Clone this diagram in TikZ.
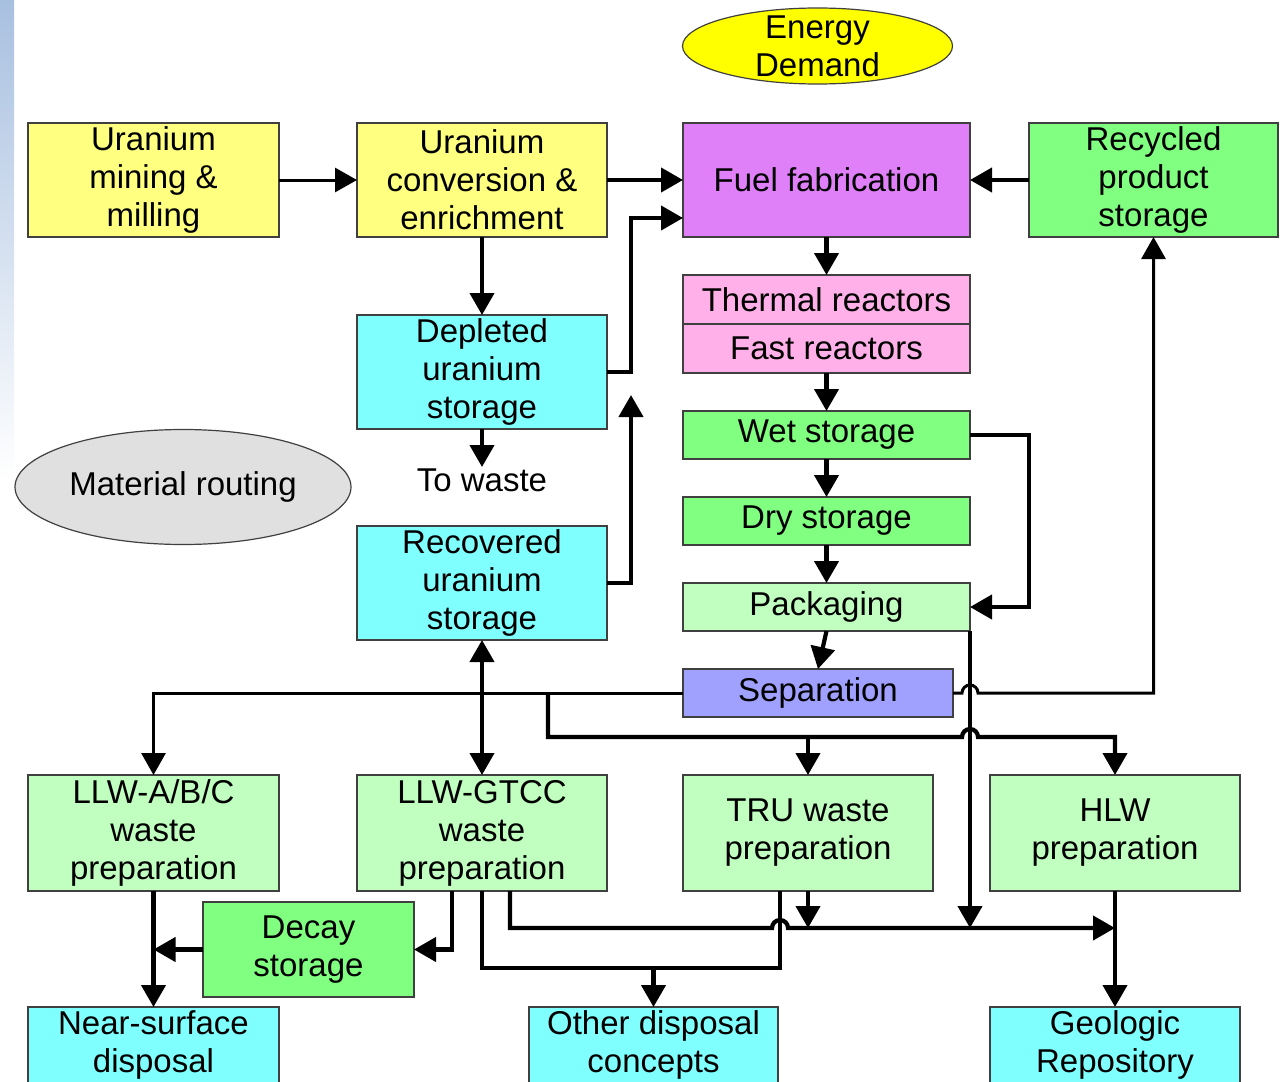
\documentclass[tikz,border=0pt]{standalone}
\usepackage{fontspec}
\setmainfont{Liberation Sans}
\usetikzlibrary{positioning,arrows.meta,calc,shapes.geometric}

\definecolor{oreyellow}{HTML}{FFFF80}
\definecolor{demandyellow}{HTML}{FFFF00}
\definecolor{fabviolet}{HTML}{E080F8}
\definecolor{storegreen}{HTML}{80FF80}
\definecolor{prepgreen}{HTML}{C0FFC0}
\definecolor{dispocyan}{HTML}{80FFFF}
\definecolor{reactpink}{HTML}{FFB0E8}
\definecolor{sepblue}{HTML}{A0A0FF}
\definecolor{routegray}{HTML}{E0E0E0}
\definecolor{stripblue}{HTML}{A8C0E0}

\begin{document}
\begin{tikzpicture}[
    x=1pt, y=1pt,
    font=\fontsize{33}{38}\selectfont,
    block/.style={
        draw=black!75,
        line width=1.3pt,
        minimum width=250pt,
        minimum height=114pt,
        inner sep=0pt,
        outer sep=0pt,
        align=center
    },
    ore/.style={block, fill=oreyellow},
    fab/.style={block, fill=fabviolet, minimum width=287pt},
    store/.style={block, fill=storegreen},
    prep/.style={block, fill=prepgreen, minimum height=116pt},
    dispo/.style={block, fill=dispocyan, minimum height=76pt},
    reactor/.style={block, fill=reactpink, minimum width=287pt, minimum height=49pt},
    stage/.style={block, minimum width=287pt, minimum height=48pt},
    oval/.style={ellipse, draw=black!75, line width=1.2pt, inner sep=0pt, outer sep=0pt, align=center},
    line/.style={line width=4.2pt},
    arrow/.style={line, -{Triangle[length=22pt,width=24pt]}},
    thinarrow/.style={arrow, line width=3pt}
]

\useasboundingbox (0,0) rectangle (1281,-1081);
\shade[top color=stripblue, bottom color=white] (0,0) rectangle (14,-480);

% ============================================================
% FRONT END
% ============================================================
\node[ore, minimum width=251pt] (mine) at (153.5,-180) {Uranium\\mining \&\\milling};
\node[ore, right=78pt of mine] (conv) {Uranium\\conversion \&\\enrichment};
\node[fab, right=76pt of conv] (fuel) {Fuel fabrication};
\node[store, minimum width=249pt, right=59pt of fuel] (recyc) {Recycled\\product\\storage};
\node[oval, fill=demandyellow, minimum width=270pt, minimum height=76pt, inner ysep=-8pt,
      above=39pt of fuel, xshift=-9pt] (demand) {Energy\\Demand};

\draw[thinarrow] (mine) -- (conv);
\draw[arrow] (conv) -- (fuel);
\draw[arrow] (recyc) -- (fuel);

% ============================================================
% URANIUM STORAGE
% ============================================================
\node[block, fill=dispocyan, below=78pt of conv] (depl) {Depleted\\uranium\\storage};
\node[below=38pt of depl, inner sep=2pt] (towaste) {To waste};
\node[block, fill=dispocyan, below=97pt of depl] (recov) {Recovered\\uranium\\storage};
\node[oval, fill=routegray, minimum width=336pt, minimum height=115pt] (routing) at (183,-487) {Material routing};

\draw[arrow] (conv) -- (depl);
\draw[arrow] (depl) -- (towaste);
\draw[arrow] (depl.east) -- ++(24,0) |- ([yshift=-38pt]fuel.west);
\draw[arrow] (recov.east) -- ++(24,0) -- ++(0,188);

% ============================================================
% REACTORS AND SPENT FUEL
% ============================================================
\node[reactor, below=38pt of fuel] (therm) {Thermal reactors};
\node[reactor, below=0pt of therm] (fast) {Fast reactors};
\node[stage, fill=storegreen, below=38pt of fast] (wet) {Wet storage};
\node[stage, fill=storegreen, below=38pt of wet] (dry) {Dry storage};
\node[stage, fill=prepgreen, below=38pt of dry] (pack) {Packaging};
\node[stage, fill=sepblue, minimum width=270pt, below=38pt of pack, xshift=-8.5pt] (sep) {Separation};

\draw[arrow] (fuel) -- (therm);
\draw[arrow] (fast) -- (wet);
\draw[arrow] (wet) -- (dry);
\draw[arrow] (dry) -- (pack);
\draw[arrow] (wet.east) -- ++(59,0) |- (pack.east);
\draw[arrow] (pack.south) -- (sep.north);

% ============================================================
% WASTE PREPARATION
% ============================================================
\node[prep, minimum width=251pt] (llwabc) at (153.5,-833) {LLW-A/B/C\\waste\\preparation};
\node[prep, right=78pt of llwabc] (llwgtcc) {LLW-GTCC\\waste\\preparation};
\node[prep, right=76pt of llwgtcc] (tru) {TRU waste\\preparation};
\node[prep, right=57pt of tru] (hlw) {HLW\\preparation};
\node[store, minimum width=211pt, minimum height=95pt] (decay) at (308.5,-949.5) {Decay\\storage};

\draw[thinarrow] (sep.west) -| (llwabc.north);
\draw[arrow, {Triangle[length=22pt,width=24pt]}-{Triangle[length=22pt,width=24pt]}] (recov) -- (llwgtcc);
\draw[arrow] ([xshift=-135pt]sep.west) -- ++(0,-44) coordinate (tbus)
    -- ($(pack.south east |- tbus)+(-8,0)$) arc[start angle=180, end angle=0, radius=8pt]
    -| (hlw.north);
\draw[arrow] (tru.north |- tbus) -- (tru.north);
\draw[thinarrow] (sep.east) -- ($(pack.south east |- sep.east)+(-8,0)$)
    arc[start angle=180, end angle=0, radius=8pt] -| (recyc.south);

% ============================================================
% DISPOSAL
% ============================================================
\node[dispo, minimum width=251pt, below=116pt of llwabc] (nearsurf) {Near-surface\\disposal};
\node[dispo, minimum width=249pt, below=116pt of llwgtcc, xshift=171.5pt] (other) {Other disposal\\concepts};
\node[dispo, below=116pt of hlw] (geo) {Geologic\\Repository};

\draw[arrow] ([xshift=28pt]llwgtcc.south) -- ++(0,-37) coordinate (wbus)
    -- ($(tru.south |- wbus)+(-36,0)$) arc[start angle=180, end angle=0, radius=8pt]
    -- (hlw.south |- wbus);
\draw[arrow] (tru.south) -- (tru.south |- wbus);
\draw[arrow] (pack.south east) -- (pack.south east |- wbus);
\draw[line] (llwgtcc.south) -- ++(0,-77) coordinate (obus) -| ([xshift=-28pt]tru.south);
\draw[arrow] (other.north |- obus) -- (other.north);
\draw[arrow] ([xshift=-30pt]llwgtcc.south) |- (decay.east);
\draw[arrow] (decay.west) -- (decay.west -| llwabc.south);
\draw[arrow] (llwabc) -- (nearsurf);
\draw[arrow] (hlw) -- (geo);

\end{tikzpicture}
\end{document}
